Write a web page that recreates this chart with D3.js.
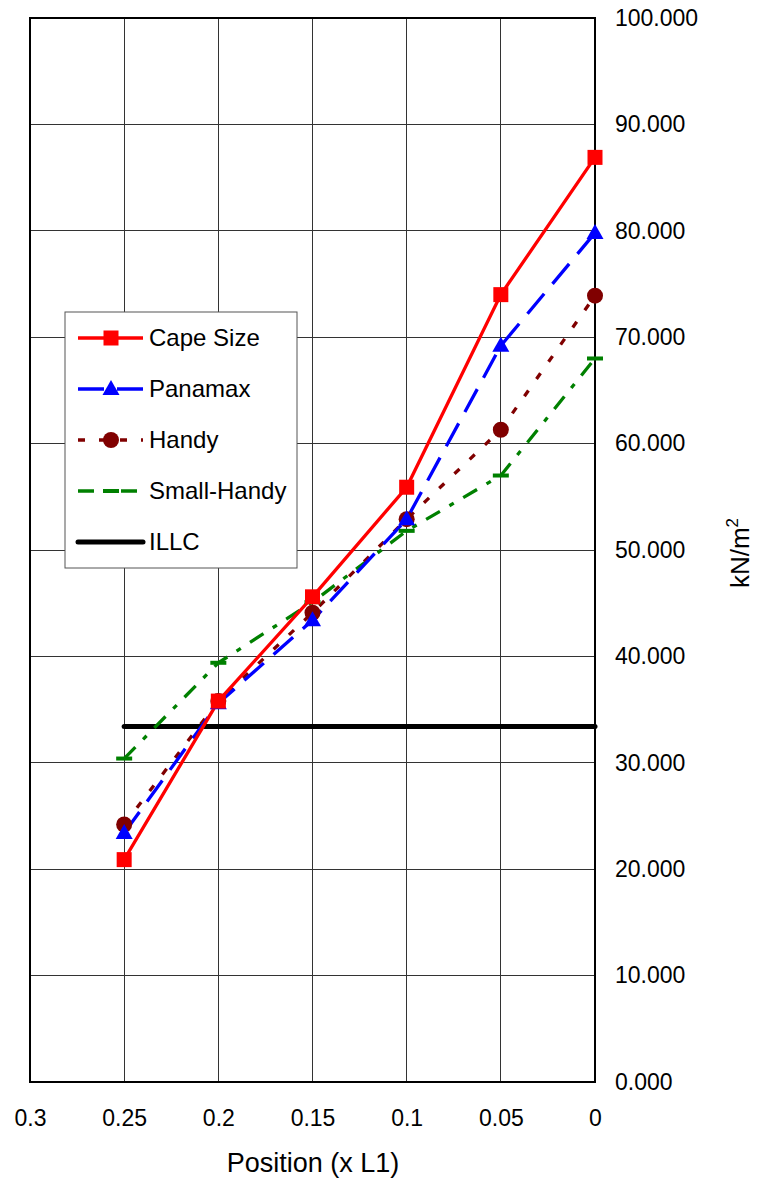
<!DOCTYPE html>
<html>
<head>
<meta charset="utf-8">
<script src="https://cdn.jsdelivr.net/npm/d3@7"></script>
<style>
  html, body { margin: 0; padding: 0; background: #fff; }
  svg { display: block; font-family: "Liberation Sans", Arial, sans-serif; }
</style>
</head>
<body>
<svg id="chart" width="757" height="1182"></svg>
<script>
// Positions along the hold (fraction of L1)
const positions = [0.25, 0.2, 0.15, 0.1, 0.05, 0];

// Pressure values in kN/m^2
const capeSize   = [20.9, 35.8, 45.6, 55.9, 74.0, 86.9];
const panamax    = [23.4, 35.6, 43.4, 52.9, 69.2, 79.8];
const handy      = [24.2, 35.8, 44.1, 52.9, 61.3, 73.9];
const smallHandy = [30.4, 39.4, 45.1, 51.8, 57.0, 68.0];
const illc       = [33.4, 33.4, 33.4, 33.4, 33.4, 33.4];

const xTicks = [0.3, 0.25, 0.2, 0.15, 0.1, 0.05, 0];
const yTicks = [0, 10, 20, 30, 40, 50, 60, 70, 80, 90, 100];

const seriesNames = ["Cape Size", "Panamax", "Handy", "Small-Handy", "ILLC"];

const series = [
  { name: seriesNames[0], values: capeSize,   color: "#ff0000", width: 3.3, dash: null,          marker: "square" },
  { name: seriesNames[1], values: panamax,    color: "#0000ff", width: 3.3, dash: "26,13",       marker: "triangle" },
  { name: seriesNames[2], values: handy,      color: "#800000", width: 3.3, dash: "7,14",        marker: "circle" },
  { name: seriesNames[3], values: smallHandy, color: "#008000", width: 3.3, dash: "16,11,5,11",  marker: "dash" },
  { name: seriesNames[4], values: illc,       color: "#000000", width: 5,   dash: null,          marker: null }
];

const svg = d3.select("#chart");
const plot = { left: 30, right: 595, top: 18, bottom: 1082 };

const x = d3.scaleLinear().domain([0.3, 0]).range([plot.left, plot.right]);
const y = d3.scaleLinear().domain([0, 100]).range([plot.bottom, plot.top]);

// Grid
const grid = svg.append("g");
grid.selectAll("line.vx").data(xTicks).join("line")
  .attr("x1", d => x(d)).attr("x2", d => x(d))
  .attr("y1", plot.top).attr("y2", plot.bottom)
  .attr("stroke", "#333").attr("stroke-width", 1).attr("shape-rendering", "crispEdges");
grid.selectAll("line.hy").data(yTicks).join("line")
  .attr("x1", plot.left).attr("x2", plot.right)
  .attr("y1", d => y(d)).attr("y2", d => y(d))
  .attr("stroke", "#333").attr("stroke-width", 1).attr("shape-rendering", "crispEdges");

// Frame
svg.append("rect")
  .attr("x", plot.left).attr("y", plot.top)
  .attr("width", plot.right - plot.left).attr("height", plot.bottom - plot.top)
  .attr("fill", "none").attr("stroke", "#000").attr("stroke-width", 2);

// Axes
const xAxis = svg.append("g").attr("transform", `translate(0,${plot.bottom})`)
  .call(d3.axisBottom(x).tickValues(xTicks).tickSize(0).tickPadding(28).tickFormat(d => String(d)));
xAxis.select(".domain").remove();
xAxis.selectAll("text").attr("font-size", 23).attr("fill", "#000")
  .attr("font-family", "Liberation Sans, Arial, sans-serif");

const yAxis = svg.append("g").attr("transform", `translate(${plot.right},0)`)
  .call(d3.axisRight(y).tickValues(yTicks).tickSize(0).tickPadding(20).tickFormat(d3.format(".3f")));
yAxis.select(".domain").remove();
yAxis.selectAll("text").attr("font-size", 23).attr("fill", "#000")
  .attr("font-family", "Liberation Sans, Arial, sans-serif");

// Axis titles
svg.append("text")
  .attr("x", 313).attr("y", 1172)
  .attr("text-anchor", "middle").attr("font-size", 27).attr("fill", "#000")
  .text("Position (x L1)");

const yTitle = svg.append("text")
  .attr("transform", "translate(749,553) rotate(-90)")
  .attr("text-anchor", "middle").attr("font-size", 26).attr("fill", "#000");
yTitle.append("tspan").text("kN/m");
yTitle.append("tspan").attr("font-size", 17).attr("dy", -11).text("2");

// Marker drawing
function drawMarker(g, type, color, cx, cy) {
  if (type === "square") {
    g.append("rect").attr("x", cx - 7.5).attr("y", cy - 7.5).attr("width", 15).attr("height", 15).attr("fill", color);
  } else if (type === "triangle") {
    g.append("path").attr("d", `M${cx},${cy - 9}L${cx + 8.5},${cy + 6}L${cx - 8.5},${cy + 6}Z`).attr("fill", color);
  } else if (type === "circle") {
    g.append("circle").attr("cx", cx).attr("cy", cy).attr("r", 8).attr("fill", color);
  } else if (type === "dash") {
    g.append("rect").attr("x", cx - 8).attr("y", cy - 2).attr("width", 16).attr("height", 4).attr("fill", color);
  }
}

// Lines
const line = d3.line().x(d => x(d[0])).y(d => y(d[1]));
const marks = svg.append("g");

// ILLC line drawn first, the ship series over it
[...series].reverse().forEach(s => {
  const pts = positions.map((p, i) => [p, s.values[i]]);
  marks.append("path")
    .attr("d", line(pts))
    .attr("fill", "none")
    .attr("stroke", s.color)
    .attr("stroke-width", s.width)
    .attr("stroke-linecap", s.marker ? "butt" : "round")
    .attr("stroke-dasharray", s.dash);
});
series.slice().reverse().forEach(s => {
  if (!s.marker) return;
  positions.forEach((p, i) => drawMarker(marks, s.marker, s.color, x(p), y(s.values[i])));
});

// Legend
const legend = svg.append("g");
legend.append("rect")
  .attr("x", 65).attr("y", 312).attr("width", 232).attr("height", 256)
  .attr("fill", "#fff").attr("stroke", "#555").attr("stroke-width", 1);

const legendY = d3.scalePoint().domain(seriesNames).range([338, 542]);
series.forEach(s => {
  const ly = legendY(s.name);
  legend.append("line")
    .attr("x1", 78).attr("x2", 143).attr("y1", ly).attr("y2", ly)
    .attr("stroke", s.color).attr("stroke-width", s.width)
    .attr("stroke-linecap", s.marker ? "butt" : "round")
    .attr("stroke-dasharray", s.dash);
  if (s.marker) drawMarker(legend, s.marker, s.color, 111, ly);
  legend.append("text")
    .attr("x", 149).attr("y", ly + 8)
    .attr("font-size", 24).attr("fill", "#000")
    .text(s.name);
});
</script>
</body>
</html>
